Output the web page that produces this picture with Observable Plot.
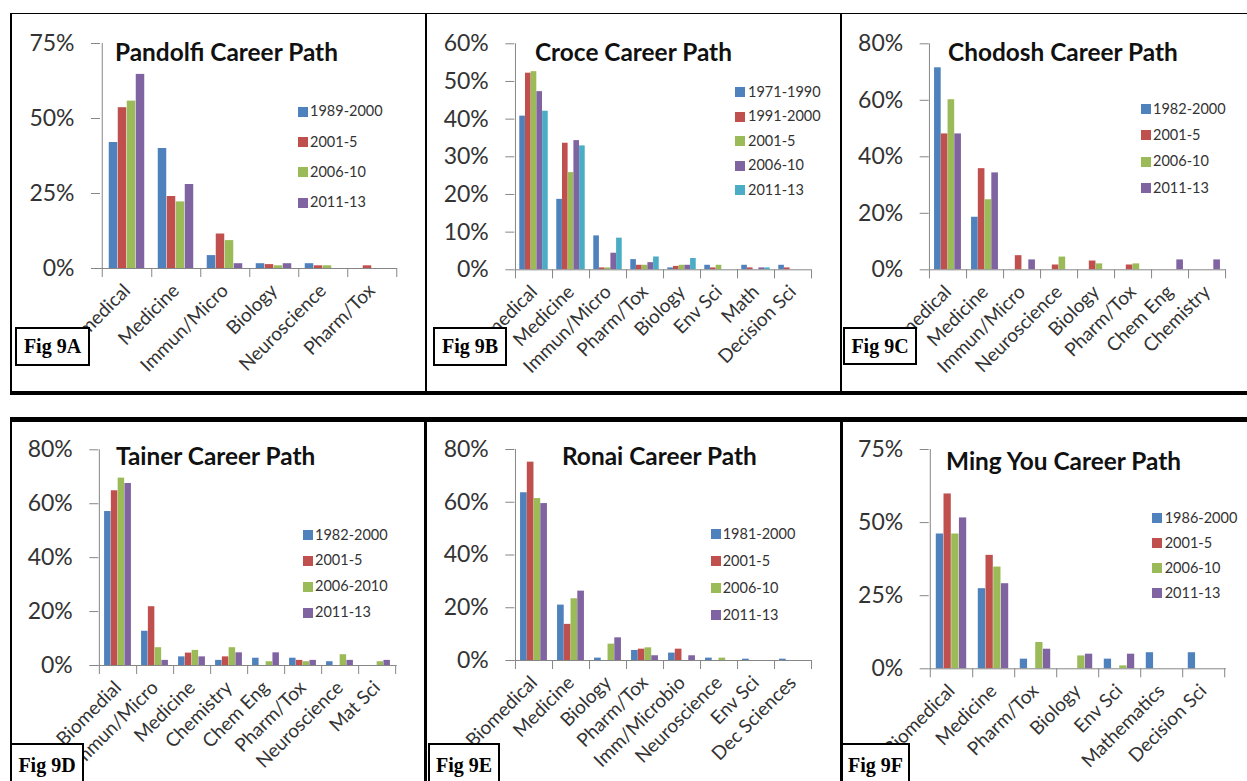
<!DOCTYPE html>
<html><head><meta charset="utf-8">
<script src="https://cdn.jsdelivr.net/npm/d3@7"></script>
<script src="https://cdn.jsdelivr.net/npm/@observablehq/plot@0.6"></script>
<style>
html,body{margin:0;padding:0;background:#fff;}
#page{position:relative;width:1247px;height:781px;overflow:hidden;font-family:Lato,sans-serif;background:#fff;}
.line{position:absolute;background:#000;}
.title{position:absolute;font-weight:bold;font-size:24.4px;color:#111;white-space:nowrap;line-height:1;}
.leg{position:absolute;font-size:14.5px;color:#333;white-space:nowrap;line-height:1;}
.sw{position:absolute;width:10px;height:10px;}
.fig{position:absolute;background:#fff;border:2px solid #000;box-sizing:border-box;font-family:"Liberation Serif","Times New Roman",serif;font-weight:bold;font-size:20px;display:flex;align-items:center;justify-content:center;color:#000;}
</style></head><body><div id="page"></div>
<script>
// ---------- DATA ----------
const seriesColors = ["#4F81BD", "#C0504D", "#9BBB59", "#8064A2", "#4BACC6"];

const pandolfiCategories = ["Biomedical", "Medicine", "Immun/Micro", "Biology", "Neuroscience", "Pharm/Tox"];
const pandolfiSeries = ["1989-2000", "2001-5", "2006-10", "2011-13"];
const pandolfiValues = [
  [0.420, 0.400, 0.043, 0.016, 0.016, 0],
  [0.536, 0.240, 0.115, 0.013, 0.009, 0.009],
  [0.558, 0.222, 0.093, 0.009, 0.009, 0],
  [0.647, 0.280, 0.016, 0.016, 0, 0]
];
const pandolfiTicks = [0, 0.25, 0.5, 0.75];

const croceCategories = ["Biomedical", "Medicine", "Immun/Micro", "Pharm/Tox", "Biology", "Env Sci", "Math", "Decision Sci"];
const croceSeries = ["1971-1990", "1991-2000", "2001-5", "2006-10", "2011-13"];
const croceValues = [
  [0.408, 0.187, 0.090, 0.027, 0.005, 0.012, 0.012, 0.012],
  [0.522, 0.336, 0.005, 0.012, 0.009, 0.005, 0.005, 0.005],
  [0.526, 0.258, 0.005, 0.012, 0.012, 0.012, 0, 0],
  [0.473, 0.343, 0.044, 0.019, 0.012, 0, 0.005, 0],
  [0.421, 0.329, 0.084, 0.034, 0.030, 0, 0.005, 0]
];
const croceTicks = [0, 0.1, 0.2, 0.3, 0.4, 0.5, 0.6];

const chodoshCategories = ["Biomedical", "Medicine", "Immun/Micro", "Neuroscience", "Biology", "Pharm/Tox", "Chem Eng", "Chemistry"];
const chodoshSeries = ["1982-2000", "2001-5", "2006-10", "2011-13"];
const chodoshValues = [
  [0.715, 0.186, 0, 0, 0, 0, 0, 0],
  [0.481, 0.358, 0.050, 0.017, 0.031, 0.017, 0, 0],
  [0.602, 0.248, 0, 0.045, 0.021, 0.021, 0, 0],
  [0.481, 0.343, 0.035, 0, 0, 0, 0.035, 0.035]
];
const chodoshTicks = [0, 0.2, 0.4, 0.6, 0.8];

const tainerCategories = ["Biomedial", "Immun/Micro", "Medicine", "Chemistry", "Chem Eng", "Pharm/Tox", "Neuroscience", "Mat Sci"];
const tainerSeries = ["1982-2000", "2001-5", "2006-2010", "2011-13"];
const tainerValues = [
  [0.571, 0.127, 0.032, 0.019, 0.027, 0.027, 0.014, 0],
  [0.648, 0.218, 0.046, 0.032, 0, 0.019, 0, 0],
  [0.695, 0.066, 0.056, 0.066, 0.014, 0.014, 0.040, 0.014],
  [0.675, 0.019, 0.032, 0.047, 0.047, 0.019, 0.019, 0.019]
];
const tainerTicks = [0, 0.2, 0.4, 0.6, 0.8];

const ronaiCategories = ["Biomedical", "Medicine", "Biology", "Pharm/Tox", "Imm/Microbio", "Neuroscience", "Env Sci", "Dec Sciences"];
const ronaiSeries = ["1981-2000", "2001-5", "2006-10", "2011-13"];
const ronaiValues = [
  [0.636, 0.210, 0.009, 0.038, 0.028, 0.009, 0.005, 0.005],
  [0.752, 0.137, 0, 0.043, 0.043, 0, 0, 0],
  [0.614, 0.234, 0.062, 0.048, 0, 0.009, 0, 0],
  [0.595, 0.263, 0.086, 0.018, 0.018, 0, 0, 0]
];
const ronaiTicks = [0, 0.2, 0.4, 0.6, 0.8];

const mingCategories = ["Biomedical", "Medicine", "Pharm/Tox", "Biology", "Env Sci", "Mathematics", "Decision Sci"];
const mingSeries = ["1986-2000", "2001-5", "2006-10", "2011-13"];
const mingValues = [
  [0.461, 0.274, 0.033, 0, 0.033, 0.055, 0.055],
  [0.598, 0.388, 0, 0, 0, 0, 0],
  [0.461, 0.348, 0.090, 0.044, 0.010, 0, 0],
  [0.516, 0.291, 0.067, 0.050, 0.050, 0, 0]
];
const mingTicks = [0, 0.25, 0.5, 0.75];

// ---------- LAYOUT ----------
const page = document.getElementById("page");
const axisColor = "#868686";

const panels = [
  {title: "Pandolfi Career Path", fig: "Fig 9A", cats: pandolfiCategories, series: pandolfiSeries, values: pandolfiValues, ticks: pandolfiTicks,
   box: [12, 15, 410, 375], x0: 100, x1: 397, yTop: 43, yZero: 268,
   titlePos: [115, 52], leg: {sx: 298, tx: 310, y0: 111.7, dy: 30.3}, figBox: [15, 327, 75, 39]},
  {title: "Croce Career Path", fig: "Fig 9B", cats: croceCategories, series: croceSeries, values: croceValues, ticks: croceTicks,
   box: [427, 15, 412, 375], x0: 514.3, x1: 811, yTop: 43.3, yZero: 269.3,
   titlePos: [535, 52], leg: {sx: 735, tx: 748, y0: 92, dy: 24.5}, figBox: [433, 327, 74, 39]},
  {title: "Chodosh Career Path", fig: "Fig 9C", cats: chodoshCategories, series: chodoshSeries, values: chodoshValues, ticks: chodoshTicks,
   box: [842, 15, 405, 375], x0: 928.7, x1: 1225.7, yTop: 43.3, yZero: 269.3,
   titlePos: [948, 52], leg: {sx: 1141, tx: 1153, y0: 109, dy: 26.4}, figBox: [843, 327, 74, 38]},
  {title: "Tainer Career Path", fig: "Fig 9D", cats: tainerCategories, series: tainerSeries, values: tainerValues, ticks: tainerTicks,
   box: [12, 422, 410, 359], x0: 98.3, x1: 396.7, yTop: 449.3, yZero: 665,
   titlePos: [116, 456.7], leg: {sx: 303, tx: 315, y0: 535, dy: 25.9}, figBox: [10, 743, 74, 44]},
  {title: "Ronai Career Path", fig: "Fig 9E", cats: ronaiCategories, series: ronaiSeries, values: ronaiValues, ticks: ronaiTicks,
   box: [428, 422, 411, 359], x0: 514.3, x1: 811, yTop: 449, yZero: 660,
   titlePos: [562, 456.7], leg: {sx: 710.7, tx: 722.7, y0: 534.3, dy: 26.9}, figBox: [428, 743, 72, 44]},
  {title: "Ming You Career Path", fig: "Fig 9F", cats: mingCategories, series: mingSeries, values: mingValues, ticks: mingTicks,
   box: [843, 422, 404, 359], x0: 928.7, x1: 1225.7, yTop: 449, yZero: 668.3,
   titlePos: [946, 461.7], leg: {sx: 1152, tx: 1164.7, y0: 518.3, dy: 25}, figBox: [841, 743, 69, 44]}
];

function drawPanel(p) {
  const [pl, pt, pw, ph] = p.box;
  const n = p.cats.length, m = p.series.length;
  const bw = (p.x1 - p.x0) / n;
  const w = bw / (m + 1.5);
  const pad = 0.75 * w;
  const ymax = p.ticks[p.ticks.length - 1];
  const tickLen = 9;
  const tickVal = -ymax * tickLen / (p.yZero - p.yTop);
  const marks = [];
  p.series.forEach((s, j) => {
    const rows = p.cats.map((c, i) => ({cat: c, v: p.values[j][i]}));
    marks.push(Plot.barY(rows, {x: "cat", y: "v", fill: seriesColors[j],
      insetLeft: pad + j * w, insetRight: bw - pad - (j + 1) * w}));
  });
  marks.push(Plot.ruleY([0], {stroke: axisColor}));
  marks.push(Plot.ruleX([p.cats[0]], {x: d => d, dx: -bw / 2, y1: 0, y2: ymax, stroke: axisColor}));
  marks.push(Plot.ruleX([p.cats[0]], {x: d => d, dx: -bw / 2, y1: 0, y2: tickVal, stroke: axisColor}));
  marks.push(Plot.ruleX(p.cats, {x: d => d, dx: bw / 2, y1: 0, y2: tickVal, stroke: axisColor}));
  marks.push(Plot.axisY({ticks: p.ticks, tickFormat: d3.format(".0%"), tickSize: 9, tickPadding: 17,
    fontSize: 23, stroke: axisColor, fill: "#333", label: null}));
  marks.push(Plot.axisX({tickRotate: -45, tickSize: 0, tickPadding: 19, fontSize: 19, fill: "#333", label: null}));
  const svg = Plot.plot({
    width: pw, height: ph,
    marginLeft: p.x0 - pl, marginRight: pl + pw - p.x1,
    marginTop: p.yTop - pt, marginBottom: pt + ph - p.yZero,
    style: {background: "transparent", overflow: "visible", fontFamily: "Lato, sans-serif"},
    x: {domain: p.cats, padding: 0, label: null},
    y: {domain: [0, ymax], label: null},
    marks
  });
  svg.style.position = "absolute";
  svg.style.left = pl + "px";
  svg.style.top = pt + "px";
  svg.style.maxWidth = "none";
  page.appendChild(svg);

  const t = document.createElement("div");
  t.className = "title";
  t.textContent = p.title;
  t.style.left = p.titlePos[0] + "px";
  t.style.top = (p.titlePos[1] - 12.5) + "px";
  page.appendChild(t);

  p.series.forEach((s, j) => {
    const y = p.leg.y0 + j * p.leg.dy;
    const sw = document.createElement("div");
    sw.className = "sw";
    sw.style.background = seriesColors[j];
    sw.style.left = p.leg.sx + "px";
    sw.style.top = (y - 5) + "px";
    page.appendChild(sw);
    const lt = document.createElement("div");
    lt.className = "leg";
    lt.textContent = s;
    lt.style.left = p.leg.tx + "px";
    lt.style.top = (y - 7.5) + "px";
    page.appendChild(lt);
  });
}

panels.forEach(drawPanel);

function line(l, t, w, h) {
  const d = document.createElement("div");
  d.className = "line";
  Object.assign(d.style, {left: l + "px", top: t + "px", width: w + "px", height: h + "px"});
  page.appendChild(d);
}
line(10, 12.5, 1237, 1.5);
line(9.5, 12.5, 2, 382);
line(424.5, 12.5, 2, 380);
line(839.5, 12.5, 2.5, 380);
line(9.5, 390.5, 1238, 4);
line(9.5, 417, 1238, 5);
line(9.5, 417, 2, 364);
line(424, 417, 3, 364);
line(839.5, 417, 3, 364);

panels.forEach(p => {
  const d = document.createElement("div");
  d.className = "fig";
  d.textContent = p.fig;
  const [l, t, w, h] = p.figBox;
  Object.assign(d.style, {left: l + "px", top: t + "px", width: w + "px", height: h + "px"});
  page.appendChild(d);
});
</script></body></html>
